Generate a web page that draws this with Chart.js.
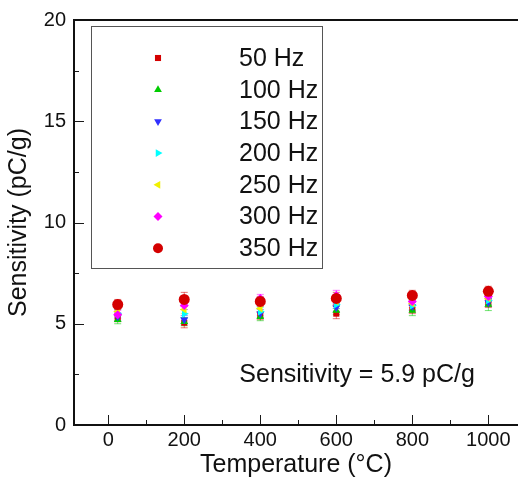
<!DOCTYPE html>
<html>
<head>
<meta charset="utf-8">
<script src="https://cdn.jsdelivr.net/npm/chart.js@4/dist/chart.umd.min.js"></script>
<style>
  html, body { margin: 0; padding: 0; background: #fff; overflow: hidden; }
  #wrap { width: 518px; height: 481px; }
</style>
</head>
<body>
<div id="wrap"><canvas id="sens" width="518" height="481"></canvas></div>
<script>
// ---- data ----
var temps   = [25, 200, 400, 600, 800, 1000];
var hzLabels = ['50 Hz', '100 Hz', '150 Hz', '200 Hz', '250 Hz', '300 Hz', '350 Hz'];
var s50  = [5.30, 5.05, 5.40, 5.50, 5.70, 6.00];
var s100 = [5.20, 5.10, 5.35, 5.65, 5.65, 5.95];
var s150 = [5.35, 5.20, 5.50, 5.80, 5.85, 6.05];
var s200 = [5.50, 5.50, 5.60, 5.95, 5.90, 6.15];
var s250 = [5.60, 5.70, 5.75, 6.10, 6.00, 6.25];
var s300 = [5.45, 5.90, 6.25, 6.40, 6.10, 6.35];
var s350 = [5.95, 6.20, 6.10, 6.25, 6.40, 6.60];
var e50  = [0.20, 0.25, 0.20, 0.25, 0.20, 0.20];
var e100 = [0.20, 0.20, 0.20, 0.20, 0.25, 0.30];
var e150 = [0.20, 0.20, 0.20, 0.20, 0.20, 0.20];
var e200 = [0.20, 0.20, 0.20, 0.20, 0.20, 0.20];
var e250 = [0.20, 0.20, 0.20, 0.20, 0.20, 0.20];
var e300 = [0.20, 0.20, 0.20, 0.25, 0.20, 0.20];
var e350 = [0.25, 0.35, 0.25, 0.30, 0.25, 0.25];
var xTicks = [0, 200, 400, 600, 800, 1000];
var yTicks = [0, 5, 10, 15, 20];
var noteText = 'Sensitivity = 5.9 pC/g';

var FONT = '"Liberation Sans", Arial, Helvetica, sans-serif';

var series = [
  { v: s50,  e: e50,  color: '#d40000', style: 'rect',     rot: 0,   r: 4.3 },
  { v: s100, e: e100, color: '#00cc00', style: 'triangle', rot: 0,   r: 4.5 },
  { v: s150, e: e150, color: '#3030ff', style: 'triangle', rot: 180, r: 4.5 },
  { v: s200, e: e200, color: '#00ffff', style: 'triangle', rot: 90,  r: 4.5 },
  { v: s250, e: e250, color: '#f0f000', style: 'triangle', rot: -90, r: 4.5 },
  { v: s300, e: e300, color: '#ff00ff', style: 'rectRot',  rot: 0,   r: 4.5 },
  { v: s350, e: e350, color: '#d40000', style: 'circle',   rot: 0,   r: 5.5 }
];

var datasets = series.map(function(s, i) {
  return {
    label: hzLabels[i],
    data: temps.map(function(t, k){ return { x: t, y: s.v[k] }; }),
    errs: s.e,
    backgroundColor: s.color,
    borderColor: s.color,
    borderWidth: 0,
    pointStyle: s.style,
    rotation: s.rot,
    pointRadius: s.r,
    order: series.length - i
  };
});

// error bars, drawn under the markers
var errorBars = {
  id: 'errorBars',
  beforeDatasetsDraw: function(chart) {
    var c = chart.ctx, xs = chart.scales.x, ys = chart.scales.y;
    c.save();
    c.lineWidth = 1;
    chart.data.datasets.forEach(function(ds) {
      c.strokeStyle = ds.borderColor;
      c.globalAlpha = 0.55;
      ds.data.forEach(function(p, k) {
        var px = xs.getPixelForValue(p.x);
        var top = ys.getPixelForValue(p.y + ds.errs[k]);
        var bot = ys.getPixelForValue(p.y - ds.errs[k]);
        c.beginPath();
        c.moveTo(px, top); c.lineTo(px, bot);
        c.moveTo(px - 3.5, top); c.lineTo(px + 3.5, top);
        c.moveTo(px - 3.5, bot); c.lineTo(px + 3.5, bot);
        c.stroke();
      });
    });
    c.restore();
  }
};

// frame, inward ticks, legend box and note
var decor = {
  id: 'decor',
  afterDraw: function(chart) {
    var c = chart.ctx, a = chart.chartArea, xs = chart.scales.x, ys = chart.scales.y;
    c.save();
    c.strokeStyle = '#1a1a1a';
    c.lineWidth = 1;
    // x ticks (major + minor), pointing up
    for (var v = 0; v <= 1000; v += 100) {
      var px = Math.round(xs.getPixelForValue(v)) + 0.5;
      var len = (v % 200 === 0) ? 10 : 5;
      c.beginPath(); c.moveTo(px, a.bottom); c.lineTo(px, a.bottom - len); c.stroke();
    }
    // y ticks, pointing right
    for (var w = 2.5; w < 20; w += 2.5) {
      var py = Math.round(ys.getPixelForValue(w)) + 0.5;
      var l2 = (w % 5 === 0) ? 10 : 5;
      c.beginPath(); c.moveTo(a.left, py); c.lineTo(a.left + l2, py); c.stroke();
    }
    // frame: left, bottom, top (right side lies past the crop)
    c.lineWidth = 2;
    c.strokeStyle = '#111';
    c.beginPath();
    c.moveTo(a.right, a.top); c.lineTo(a.left, a.top);
    c.lineTo(a.left, a.bottom); c.lineTo(a.right, a.bottom);
    c.stroke();

    // legend
    var lx = 91, ly = 26, lw = 231, lh = 242;
    c.lineWidth = 1;
    c.strokeStyle = '#555';
    c.strokeRect(lx + 0.5, ly + 0.5, lw, lh);
    c.font = '25px ' + FONT;
    c.textBaseline = 'middle';
    c.textAlign = 'left';
    chart.data.datasets.forEach(function(ds, i) {
      var ry = 58 + i * 31.7;
      var opts = { pointStyle: ds.pointStyle, rotation: ds.rotation, radius: (i === 6 ? 5 : ds.pointRadius), borderWidth: 0 };
      c.fillStyle = ds.backgroundColor;
      c.strokeStyle = ds.backgroundColor;
      Chart.helpers.drawPoint(c, opts, 158, ry);
      c.fillStyle = '#111';
      c.fillText(ds.label, 239, ry + 1);
    });

    // note
    c.fillText(noteText, xs.getPixelForValue(345), ys.getPixelForValue(2.45));
    c.restore();
  }
};

new Chart(document.getElementById('sens'), {
  type: 'scatter',
  data: { datasets: datasets },
  options: {
    responsive: false,
    animation: false,
    devicePixelRatio: 1,
    layout: { autoPadding: false, padding: { top: 18, right: 0, left: 0, bottom: 0 } },
    plugins: { legend: { display: false }, tooltip: { enabled: false } },
    scales: {
      x: {
        type: 'linear', min: -90, max: 1078,
        afterFit: function(s){ s.height = 56; },
        afterBuildTicks: function(s){ s.ticks = xTicks.map(function(v){ return { value: v }; }); },
        grid: { display: false, drawTicks: false },
        border: { display: false },
        ticks: { color: '#111', font: { family: FONT, size: 20 }, padding: 3, maxRotation: 0, autoSkip: false,
                 callback: function(v){ return String(v); } },
        title: { display: true, text: 'Temperature (°C)', color: '#111', font: { family: FONT, size: 25, lineHeight: 1 }, padding: { top: 0, bottom: 3 } }
      },
      y: {
        type: 'linear', min: 0, max: 20,
        afterFit: function(s){ s.width = 74; },
        afterBuildTicks: function(s){ s.ticks = yTicks.map(function(v){ return { value: v }; }); },
        grid: { display: false, drawTicks: false },
        border: { display: false },
        ticks: { color: '#111', font: { family: FONT, size: 20 }, padding: 8, callback: function(v){ return String(v); } },
        title: { display: true, text: 'Sensitivity (pC/g)', color: '#111', font: { family: FONT, size: 25, lineHeight: 1 }, padding: { top: 7, bottom: 0 } }
      }
    }
  },
  plugins: [errorBars, decor]
});
</script>
</body>
</html>
